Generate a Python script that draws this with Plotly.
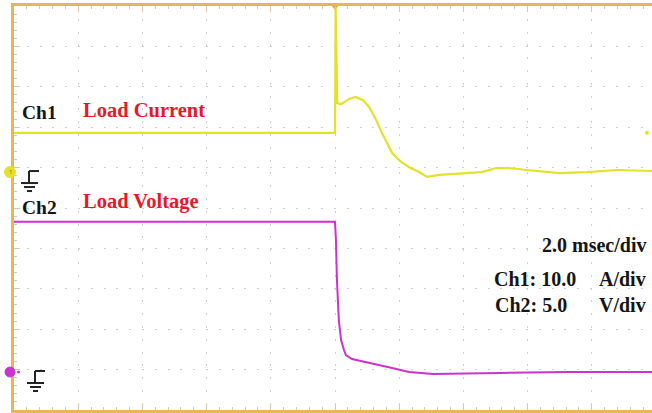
import plotly.graph_objects as go

# Time base: 2 ms/div, trigger at t = 0 (centre of the screen)
t_ch1 = [-10.0, -5.0, 0.0, 0.02, 0.07, 0.19, 0.44, 0.65, 0.87, 1.06, 1.25, 1.46,
         1.78, 2.06, 2.31, 2.62, 2.87, 3.24, 4.08, 4.58, 5.02, 5.42, 5.98, 6.54,
         7.0, 7.85, 8.78, 9.9]
i_ch1 = [9.7, 9.7, 9.7, 40.8, 17.1, 16.8, 18.1, 18.6, 17.8, 16.1, 13.4, 9.7,
         4.7, 2.5, 1.2, 0.0, -1.2, -0.7, -0.25, 0.0, 1.0, 1.0, 0.5, 0.0,
         -0.25, 0.0, 0.5, 0.25]

t_ch2 = [-10.0, -5.0, 0.0, 0.03, 0.06, 0.12, 0.19, 0.28, 0.34, 0.53, 1.15,
         1.78, 2.31, 3.05, 5.14, 7.23, 9.9]
v_ch2 = [18.6, 18.6, 18.6, 16.3, 11.4, 6.4, 3.96, 2.72, 2.1, 1.6, 1.1,
         0.5, 0.0, -0.25, -0.12, 0.0, 0.0]

ch1_label = "Ch1"
ch2_label = "Ch2"
ch1_name = "Load Current"
ch2_name = "Load Voltage"
timebase_text = "2.0 msec/div"
ch1_scale = ["Ch1: 10.0", "A/div"]
ch2_scale = ["Ch2: 5.0", "V/div"]

A_PER_DIV = 10.0
V_PER_DIV = 5.0
N_DIV_Y = 10
CH1_ZERO_DIV = 5.89   # ground level of Ch1, in divisions from the bottom
CH2_ZERO_DIV = 0.94   # ground level of Ch2

YELLOW = "#e2e22a"
MAGENTA = "#cc33cc"
ORANGE = "#e9b45a"
RED = "#e8182a"
SERIF = "Liberation Serif, Times New Roman, serif"

fig = go.Figure()

fig.add_trace(go.Scatter(x=t_ch1, y=i_ch1, mode="lines", yaxis="y2",
                         line=dict(color=YELLOW, width=2.2), hoverinfo="skip"))
fig.add_trace(go.Scatter(x=t_ch2, y=v_ch2, mode="lines", yaxis="y3",
                         line=dict(color=MAGENTA, width=2), hoverinfo="skip"))

# small level dot at the right of Ch1
fig.add_trace(go.Scatter(x=[9.72], y=[9.7], yaxis="y2", mode="markers",
                         marker=dict(color=YELLOW, size=4),
                         cliponaxis=False, hoverinfo="skip"))
# trigger position marker
fig.add_trace(go.Scatter(x=[0], y=[N_DIV_Y], mode="markers",
                         marker=dict(color="#f0a030", size=8, symbol="triangle-down"),
                         cliponaxis=False, hoverinfo="skip"))


def ground_symbol(xpix, yaxis_ref):
    """Ground glyph drawn in pixel offsets from the channel's zero level."""
    segs = [
        (xpix, 1, xpix + 10, 1),
        (xpix, 1, xpix, -10),
        (xpix - 8, -11, xpix + 9, -11),
        (xpix - 5, -15, xpix + 6, -15),
        (xpix - 2, -19, xpix + 3, -19),
    ]
    for x0, y0, x1, y1 in segs:
        fig.add_shape(type="line", xref="x", yref=yaxis_ref,
                      xsizemode="pixel", ysizemode="pixel",
                      xanchor=-10, yanchor=0,
                      x0=x0, y0=y0, x1=x1, y1=y1,
                      line=dict(color="#222222", width=2))


ground_symbol(15, "y2")
ground_symbol(21, "y3")


def ground_marker(zero_div, color, r):
    """Filled channel marker on the left border (paper refs so it is not clipped)."""
    fig.add_shape(type="circle", xref="paper", yref="paper",
                  xsizemode="pixel", ysizemode="pixel",
                  xanchor=0, yanchor=zero_div / N_DIV_Y,
                  x0=-4 - r, x1=-4 + r, y0=-r, y1=r,
                  fillcolor=color, line=dict(color=color, width=1), layer="above")


ground_marker(CH1_ZERO_DIV, YELLOW, 5.5)
ground_marker(CH2_ZERO_DIV, MAGENTA, 5)
fig.add_shape(type="circle", xref="paper", yref="paper",
              xsizemode="pixel", ysizemode="pixel",
              xanchor=0, yanchor=CH2_ZERO_DIV / N_DIV_Y,
              x0=3, x1=6, y0=-1.5, y1=1.5,
              fillcolor=MAGENTA, line=dict(width=0), layer="above")

ann = []
def label(x, y, text, color, size, anchor="left", yref="y"):
    ann.append(dict(x=x, y=y, xref="x", yref=yref, text=f"<b>{text}</b>",
                    showarrow=False, xanchor=anchor, yanchor="middle",
                    font=dict(family=SERIF, size=size, color=color)))

label(-9.8, 7.37, ch1_label, "#151515", 19.5)
label(-7.9, 7.42, ch1_name, RED, 20.5)
label(-9.8, 5.02, ch2_label, "#151515", 19.5)
label(-7.9, 5.17, ch2_name, RED, 20.5)
label(9.76, 4.08, timebase_text, "#151515", 20, anchor="right")
label(4.9, 3.24, ch1_scale[0], "#151515", 20)
label(9.76, 3.24, ch1_scale[1], "#151515", 20, anchor="right")
label(4.92, 2.6, ch2_scale[0], "#151515", 20)
label(9.76, 2.6, ch2_scale[1], "#151515", 20, anchor="right")

# channel number inside the Ch1 marker
ann.append(dict(x=0, y=CH1_ZERO_DIV / N_DIV_Y, xref="paper", yref="paper",
                text="1", showarrow=False, xanchor="center", yanchor="middle",
                xshift=-4, font=dict(size=6, color="#7a6a00")))

x_max = -10 + (652 - 14) / 64.2 * 2

fig.update_layout(
    width=652, height=413,
    margin=dict(l=14, r=0, t=6, b=3),
    paper_bgcolor="white", plot_bgcolor="white",
    showlegend=False,
    annotations=ann,
    xaxis=dict(range=[-10, x_max], dtick=2, tick0=0,
               showgrid=True, gridcolor="#cfcfcf", gridwidth=1, griddash="2px,10.8px",
               zeroline=False, showticklabels=False,
               showline=True, linecolor=ORANGE, linewidth=2.5, mirror="ticks",
               ticks="inside", ticklen=6, tickcolor="#d8c8a8",
               minor=dict(dtick=0.4, ticks="inside", ticklen=3, tickcolor="#d8c8a8",
                          showgrid=False)),
    yaxis=dict(range=[0, N_DIV_Y], dtick=1, tick0=0,
               showgrid=True, gridcolor="#cfcfcf", gridwidth=1, griddash="2px,10.8px",
               zeroline=False, showticklabels=False,
               showline=True, linecolor=ORANGE, linewidth=2.5, mirror=False,
               ticks="inside", ticklen=6, tickcolor="#d8c8a8",
               minor=dict(dtick=0.2, ticks="inside", ticklen=3, tickcolor="#d8c8a8",
                          showgrid=False)),
    yaxis2=dict(overlaying="y", visible=False,
                range=[-CH1_ZERO_DIV * A_PER_DIV, (N_DIV_Y - CH1_ZERO_DIV) * A_PER_DIV]),
    yaxis3=dict(overlaying="y", visible=False,
                range=[-CH2_ZERO_DIV * V_PER_DIV, (N_DIV_Y - CH2_ZERO_DIV) * V_PER_DIV]),
)

fig.write_html("out.html")
